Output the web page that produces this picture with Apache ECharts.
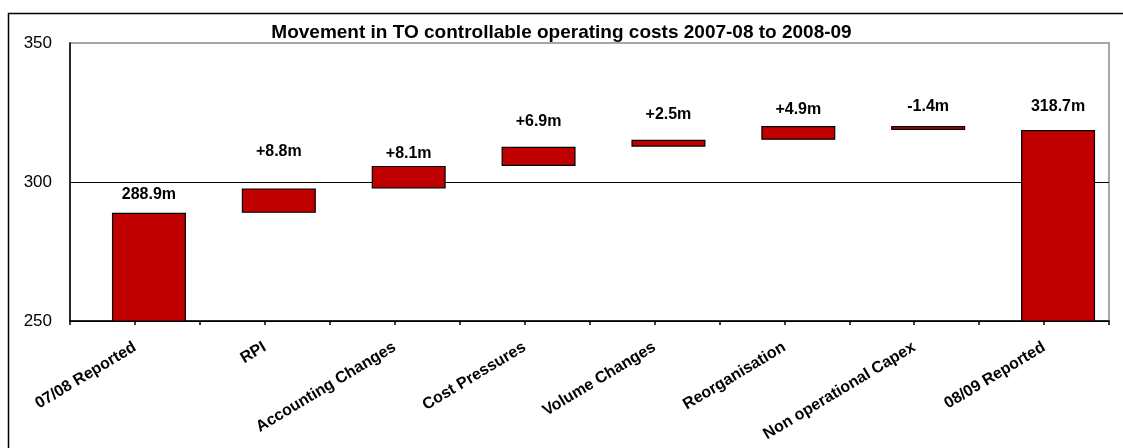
<!DOCTYPE html>
<html>
<head>
<meta charset="utf-8">
<script src="https://cdn.jsdelivr.net/npm/echarts@6/dist/echarts.min.js"></script>
<style>
  html, body { margin: 0; padding: 0; background: #fff; }
  #chart { width: 1123px; height: 448px; }
</style>
</head>
<body>
<div id="chart"></div>
<script>
// Waterfall of TO controllable operating costs (£m)
const categories = ['07/08 Reported', 'RPI', 'Accounting Changes', 'Cost Pressures',
  'Volume Changes', 'Reorganisation', 'Non operational Capex', '08/09 Reported'];
const openingCost = 288.9;
const movements = [8.8, 8.1, 6.9, 2.5, 4.9, -1.4];
const closingCost = 318.7;
const yTicks = [250, 300, 350];

// Label lift above each bar top (px), styling only
const labelLift = [10, 29, 4, 17, 17, 9, 12, 15];

const FONT = '"Liberation Sans", Arial, sans-serif';
const RED = '#C00000';

// Build invisible base + visible step values
const baseVals = [0];
const stepVals = [openingCost];
const labelTexts = [openingCost.toFixed(1) + 'm'];
let level = openingCost;
movements.forEach(function (m) {
  const next = +(level + m).toFixed(1);
  baseVals.push(Math.min(level, next));
  stepVals.push(+Math.abs(m).toFixed(1));
  labelTexts.push((m >= 0 ? '+' : '-') + Math.abs(m).toFixed(1) + 'm');
  level = next;
});
baseVals.push(0);
stepVals.push(closingCost);
labelTexts.push(closingCost.toFixed(1) + 'm');

const chart = echarts.init(document.getElementById('chart'), null, { renderer: 'canvas' });

chart.setOption({
  animation: false,
  backgroundColor: '#fff',
  textStyle: { fontFamily: FONT },
  title: {
    text: 'Movement in TO controllable operating costs 2007-08 to 2008-09',
    left: 'center',
    top: 18,
    textStyle: { fontFamily: FONT, fontSize: 19, fontWeight: 'bold', color: '#000' }
  },
  graphic: [{
    type: 'rect',
    left: 6, top: 11,
    shape: { width: 1200, height: 500 },
    style: { fill: null, stroke: '#000', lineWidth: 1.5 },
    silent: true,
    z: 100
  }],
  grid: {
    left: 70, right: 14, top: 43, bottom: 127,
    containLabel: false,
    outerBoundsMode: 'none',
    show: true,
    borderColor: '#a6a6a6',
    borderWidth: 2,
    backgroundColor: 'transparent'
  },
  xAxis: [{
    type: 'category',
    data: categories,
    axisLine: { lineStyle: { color: '#000', width: 1.5 } },
    axisTick: { show: false },
    axisLabel: {
      interval: 0,
      rotate: 31,
      margin: 25,
      color: '#000',
      fontFamily: FONT,
      fontSize: 16,
      fontWeight: 'bold'
    },
    splitLine: { show: false }
  }, {
    // half-category tick marks along the base
    type: 'value',
    position: 'bottom',
    min: 0, max: categories.length * 2, interval: 1,
    axisLine: { show: false },
    axisTick: { show: true, length: 4, lineStyle: { color: '#000', width: 1.5 } },
    axisLabel: { show: false },
    splitLine: { show: false }
  }],
  yAxis: {
    type: 'value',
    min: yTicks[0],
    max: yTicks[yTicks.length - 1],
    interval: yTicks[1] - yTicks[0],
    axisLine: { show: true, lineStyle: { color: '#000', width: 1.5 } },
    axisTick: { show: false },
    axisLabel: {
      margin: 18,
      color: '#000',
      fontFamily: FONT,
      fontSize: 17
    },
    splitLine: { show: true, lineStyle: { color: ['#000', '#000', '#a6a6a6'], width: 1.2 } }
  },
  series: [{
    // spacer slot shifting the bars right of the category centre
    name: 'spacer',
    type: 'bar',
    barWidth: 28,
    barGap: '0%',
    data: categories.map(function () { return '-'; }),
    silent: true
  }, {
    name: 'base',
    type: 'bar',
    stack: 'flow',
    barWidth: 74,
    barGap: '0%',
    itemStyle: { color: 'transparent', borderColor: 'transparent' },
    data: baseVals,
    silent: true
  }, {
    name: 'Movement',
    type: 'bar',
    stack: 'flow',
    barWidth: 74,
    barGap: '0%',
    itemStyle: { color: RED, borderColor: '#000', borderWidth: 1.2 },
    data: stepVals.map(function (v, i) {
      return {
        value: v,
        label: {
          show: true,
          position: 'top',
          distance: labelLift[i],
          formatter: labelTexts[i],
          color: '#000',
          fontFamily: FONT,
          fontSize: 16,
          fontWeight: 'bold'
        }
      };
    })
  }]
});
</script>
</body>
</html>
